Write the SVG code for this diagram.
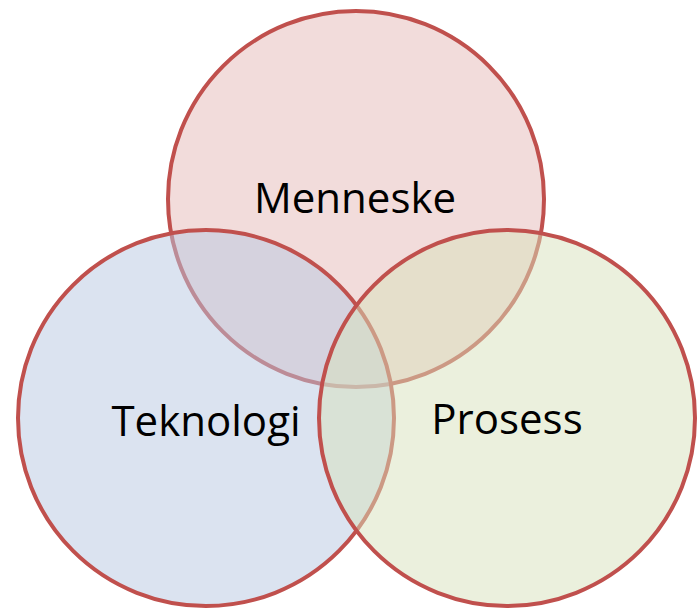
<svg xmlns="http://www.w3.org/2000/svg" width="698" height="611" viewBox="0 0 698 611">
<style>
.c{stroke:#c0504d;stroke-width:4}
.t{font-family:"Open Sans","Liberation Sans",sans-serif;font-size:42px;fill:#000;text-anchor:middle}
</style>
<rect width="698" height="611" fill="#fff"/>
<g id="menneske">
<circle class="c" cx="356" cy="199" r="188" fill="#f2dcdb"/>
</g>
<g id="teknologi">
<circle cx="206" cy="418" r="188" fill="#b7c7e1" fill-opacity="0.5"/>
<circle class="c" cx="206" cy="418" r="188" fill="none"/>
</g>
<g id="prosess">
<circle cx="507" cy="418" r="188" fill="#d7e1bb" fill-opacity="0.5"/>
<circle class="c" cx="507" cy="418" r="188" fill="none"/>
</g>
<g id="labels">
<text class="t" x="355" y="213">Menneske</text>
<text class="t" x="206" y="436">Teknologi</text>
<text class="t" x="507" y="434">Prosess</text>
</g>
</svg>
